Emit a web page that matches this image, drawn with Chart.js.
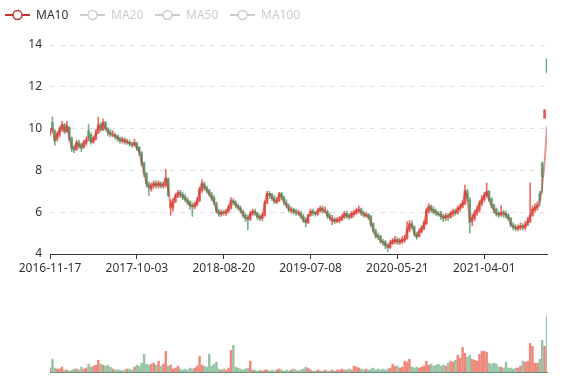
<!DOCTYPE html>
<html><head><meta charset="utf-8">
<script src="https://cdn.jsdelivr.net/npm/chart.js@4.4.1/dist/chart.umd.min.js"></script>
<style>
html,body{margin:0;padding:0;background:#fff;}
#wrap{position:relative;width:577px;height:380px;overflow:hidden;font-family:'Noto Sans',sans-serif;}
#price{position:absolute;left:0;top:0;}
#vol{position:absolute;left:0;top:290px;}
.lg{position:absolute;top:8px;height:14px;display:flex;align-items:center;font-size:12px;line-height:14px;white-space:nowrap;}
.lg svg{margin-right:6px;display:block;}
</style></head><body>
<div id="wrap">
<canvas id="price" width="577" height="290"></canvas>
<canvas id="vol" width="577" height="90"></canvas>
<div id="legend"></div>
</div>
<script>
// ---- data ----
const seriesNames = ['MA10', 'MA20', 'MA50', 'MA100'];
const seriesVisible = [true, false, false, false];
const tickIndex = [0, 36, 72, 108, 144, 180];
const tickLabels = ['2016-11-17', '2017-10-03', '2018-08-20', '2019-07-08', '2020-05-21', '2021-04-01'];

const ma10 = [
9.85,10.0,9.45,9.7,9.95,10.15,9.9,10.1,9.6,9.1,
9.05,9.3,9.2,9.1,9.3,9.4,9.6,9.4,9.5,9.7,
10.1,10.0,10.25,10.05,9.85,9.75,9.7,9.65,9.55,9.45,
9.45,9.4,9.35,9.3,9.25,9.3,9.1,8.9,8.4,7.9,
7.4,7.2,7.25,7.35,7.3,7.35,7.3,7.3,7.6,7.2,
6.3,6.55,6.75,6.9,6.85,6.75,6.65,6.5,6.35,6.3,
6.35,6.5,7.0,7.35,7.2,7.05,6.9,6.7,6.5,6.1,
5.95,5.95,6.0,6.0,6.2,6.5,6.5,6.35,6.25,6.1,
5.9,5.75,5.7,5.9,6.0,6.0,5.8,5.75,5.8,6.4,
6.85,6.85,6.7,6.55,6.5,6.85,6.75,6.5,6.35,6.15,
6.1,6.05,6.0,5.95,5.8,5.65,5.55,5.8,6.0,6.0,
5.95,6.05,6.15,6.1,6.05,5.85,5.75,5.65,5.6,5.6,
5.65,5.75,5.9,5.85,5.8,5.9,5.95,6.05,6.1,6.0,
5.9,5.85,5.8,5.5,5.15,4.9,4.8,4.65,4.55,4.45,
4.35,4.5,4.6,4.65,4.6,4.6,4.65,4.7,5.1,5.4,
5.35,5.0,4.85,5.05,5.2,5.4,6.0,6.25,6.15,6.05,
6.0,5.9,5.85,5.75,5.8,5.8,5.9,6.0,6.0,6.15,
6.25,6.4,6.95,6.7,5.6,5.7,5.95,6.1,6.4,6.6,
6.8,6.95,6.6,6.3,6.1,5.95,5.9,5.95,5.95,5.85,
5.75,5.4,5.3,5.25,5.25,5.3,5.3,5.35,5.55,5.8,
6.1,6.2,6.3,6.55,7.3,8.4,10.1];

const open = [
9.75,10.3,9.9,9.5,9.7,9.95,10.2,9.85,10.05,9.55,
9.1,9.0,9.35,9.25,9.1,9.3,9.9,9.7,9.35,9.5,
9.8,10.2,9.95,10.3,10.0,9.85,9.75,9.7,9.65,9.55,
9.4,9.5,9.35,9.35,9.25,9.2,9.3,9.1,8.85,8.35,
7.85,7.35,7.1,7.25,7.4,7.25,7.4,7.25,7.3,7.6,
6.2,6.2,6.5,6.75,6.95,6.85,6.75,6.6,6.5,6.35,
6.25,6.35,6.55,7.05,7.35,7.2,7.05,6.85,6.7,6.4,
6.05,5.9,6.0,5.95,6.05,6.2,6.55,6.45,6.3,6.2,
6.05,5.85,5.75,5.65,5.9,6.05,5.95,5.8,5.7,5.85,
6.45,6.9,6.85,6.7,6.5,6.55,6.9,6.7,6.45,6.3,
6.1,6.15,6.05,5.95,5.95,5.8,5.65,5.5,5.85,6.05,
5.95,5.9,6.05,6.2,6.1,6.05,5.85,5.55,5.65,5.55,
5.6,5.65,5.75,5.95,5.85,5.75,5.9,5.95,6.05,6.15,
5.95,5.85,5.9,5.8,5.45,5.1,4.9,4.85,4.6,4.6,
4.4,4.3,4.5,4.6,4.7,4.55,4.6,4.65,4.75,5.15,
5.45,5.3,4.95,4.85,5.05,5.2,5.45,6.05,6.3,6.15,
6.05,5.95,5.95,5.8,5.7,5.85,5.75,5.9,6.05,5.95,
6.15,6.25,6.4,7.0,6.6,5.55,5.7,5.95,6.1,6.4,
6.6,6.8,7.0,6.65,6.35,6.15,5.95,5.85,6.0,5.95,
5.85,5.7,5.4,5.3,5.2,5.25,5.35,5.25,5.4,5.55,
5.85,6.1,6.2,6.9,8.35,10.5,13.3];

const close = [
9.9,9.95,9.4,9.75,10.0,10.2,9.85,10.15,9.5,9.05,
8.95,9.35,9.15,9.05,9.35,9.45,9.6,9.35,9.55,9.8,
10.2,9.95,10.3,10.0,9.8,9.7,9.75,9.6,9.5,9.4,
9.5,9.35,9.4,9.25,9.2,9.35,9.05,8.85,8.3,7.85,
7.35,7.15,7.3,7.4,7.25,7.4,7.25,7.35,7.65,6.8,
6.4,6.5,6.8,6.95,6.85,6.7,6.6,6.45,6.3,6.25,
6.4,6.55,7.1,7.4,7.15,7.0,6.85,6.65,6.45,6.05,
5.9,6.0,5.95,6.05,6.25,6.55,6.45,6.3,6.2,6.05,
5.85,5.7,5.65,5.95,6.05,5.95,5.75,5.7,5.85,6.45,
6.9,6.8,6.65,6.5,6.55,6.9,6.7,6.45,6.3,6.1,
6.15,6.0,5.95,6.0,5.8,5.6,5.5,5.85,6.05,5.95,
5.9,6.1,6.2,6.05,6.1,5.8,5.7,5.7,5.55,5.65,
5.7,5.8,5.95,5.8,5.75,5.95,6.0,6.1,6.15,5.95,
5.85,5.9,5.75,5.4,5.1,4.85,4.85,4.6,4.55,4.4,
4.3,4.55,4.65,4.7,4.55,4.65,4.7,4.75,5.2,5.45,
5.3,4.95,4.8,5.1,5.25,5.5,6.1,6.3,6.1,6.0,
5.95,5.9,5.8,5.7,5.85,5.75,5.95,6.05,5.95,6.2,
6.3,6.45,7.05,6.65,5.5,5.75,5.95,6.15,6.45,6.65,
6.85,7.0,6.6,6.3,6.1,5.9,5.85,6.0,5.9,5.8,
5.7,5.4,5.3,5.2,5.3,5.35,5.25,5.4,5.6,5.85,
6.15,6.25,6.35,6.55,7.7,10.9,12.7];

const high = [
10.0,10.55,9.95,9.85,10.1,10.35,10.25,10.35,10.1,9.6,
9.2,9.45,9.45,9.3,9.45,9.6,10.2,9.8,9.65,9.95,
10.55,10.3,10.45,10.35,10.05,9.95,9.9,9.8,9.7,9.6,
9.6,9.55,9.5,9.45,9.35,9.5,9.35,9.15,8.9,8.4,
7.9,7.45,7.4,7.5,7.5,7.5,7.45,7.45,8.05,7.65,
6.6,6.65,6.9,7.05,7.05,6.95,6.85,6.7,6.55,6.45,
6.5,6.7,7.2,7.55,7.45,7.25,7.1,6.95,6.8,6.5,
6.15,6.1,6.1,6.15,6.35,6.7,6.65,6.55,6.4,6.3,
6.1,5.95,5.85,6.05,6.15,6.15,6.0,5.9,5.95,6.55,
7.0,7.0,6.9,6.8,6.7,6.95,6.95,6.8,6.6,6.4,
6.25,6.2,6.15,6.1,6.05,5.9,5.75,5.9,6.15,6.15,
6.05,6.2,6.3,6.3,6.25,6.1,5.95,5.85,5.75,5.75,
5.8,5.9,6.05,6.05,5.95,6.05,6.1,6.2,6.3,6.2,
6.05,6.0,5.95,5.85,5.5,5.2,5.0,4.9,4.7,4.65,
4.5,4.65,4.75,4.85,4.8,4.75,4.85,4.9,5.55,5.6,
5.6,5.35,5.05,5.2,5.35,5.6,6.2,6.4,6.35,6.25,
6.15,6.05,6.05,5.9,5.95,5.95,6.05,6.15,6.15,6.3,
6.4,6.55,7.3,7.1,6.7,5.9,6.1,6.3,6.55,6.8,
6.95,7.4,7.05,6.7,6.4,6.2,6.05,6.3,6.1,6.05,
5.95,5.75,5.5,5.4,5.4,5.5,5.45,5.55,5.75,7.4,
6.3,6.4,6.5,7.0,8.4,10.9,13.35];

const low = [
9.65,9.8,9.2,9.4,9.6,9.85,9.75,9.8,9.4,8.9,
8.85,8.95,9.05,8.9,9.05,9.2,9.4,9.25,9.3,9.45,
9.75,9.85,9.9,9.9,9.65,9.6,9.6,9.5,9.4,9.3,
9.3,9.25,9.25,9.15,9.1,9.15,8.95,8.7,8.2,7.7,
7.2,6.8,7.0,7.15,7.15,7.15,7.15,7.15,7.2,6.75,
5.85,6.05,6.45,6.7,6.7,6.6,6.5,6.35,6.15,5.8,
6.15,6.3,6.5,6.95,7.05,6.9,6.75,6.55,6.35,5.95,
5.8,5.8,5.85,5.85,5.95,6.15,6.35,6.2,6.1,5.95,
5.75,5.55,5.17,5.6,5.85,5.85,5.65,5.6,5.6,5.8,
6.4,6.65,6.55,6.4,6.4,6.5,6.6,6.35,6.2,6.0,
5.95,5.9,5.85,5.85,5.7,5.5,5.3,5.45,5.8,5.85,
5.8,5.85,6.0,5.95,5.95,5.7,5.6,5.4,5.45,5.5,
5.5,5.6,5.7,5.7,5.65,5.7,5.8,5.9,5.95,5.85,
5.75,5.75,5.65,5.3,5.0,4.75,4.7,4.5,4.4,4.25,
4.12,4.25,4.45,4.5,4.45,4.45,4.5,4.55,4.7,5.05,
5.2,4.85,4.7,4.8,5.0,5.15,5.4,5.95,6.0,5.9,
5.85,5.8,5.65,5.55,5.6,5.6,5.7,5.8,5.85,5.9,
6.05,6.2,6.35,6.5,5.0,5.35,5.6,5.85,6.0,6.3,
6.5,6.7,6.5,6.2,5.95,5.8,5.75,5.8,5.75,5.7,
5.6,5.3,5.15,5.1,5.1,5.15,5.15,5.15,5.35,5.5,
5.8,6.0,6.1,6.3,6.9,10.5,12.65];

const volume = [
4,13,4,3,3,5,2,2,1,2,
3,3,2,5,3,4,8,5,6,7,
12,8,7,6,7,5,3,2,2,2,
1,2,3,3,2,5,7,6,9,18,
8,7,8,9,7,11,6,8,21,6,
7,3,4,6,3,2,3,2,4,3,
4,6,16,7,6,5,18,6,8,10,
3,2,3,2,4,22,27,5,4,3,
2,3,4,11,2,2,1,2,1,2,
2,1,2,1,2,3,2,1,2,1,
2,3,2,1,2,3,5,4,2,1,
1,2,1,1,2,1,1,2,1,2,
2,3,2,2,3,2,6,5,4,3,
2,3,2,3,4,2,3,2,3,2,
3,4,8,6,6,4,5,11,10,13,
5,4,5,4,5,6,11,7,8,6,
7,8,6,7,6,9,11,10,12,17,
14,25,19,15,17,13,12,11,18,21,
21,20,9,8,9,8,5,5,4,10,
4,4,3,4,4,6,11,10,11,29,
26,9,9,13,32,26,57];

// ---- styling ----
const FONT = "'Noto Sans', sans-serif";
Chart.defaults.font.family = FONT;
Chart.defaults.font.size = 12;
const N = close.length;
const isUp = close.map((c, i) => c >= open[i]);
const UP = 'rgba(232,84,74,0.85)', DOWN = 'rgba(84,158,110,0.8)';
const UPV = 'rgba(232,90,74,0.72)', DOWNV = 'rgba(84,158,110,0.6)';
const candleCol = isUp.map(u => u ? UP : DOWN);

// legend (HTML)
const legendX = [5, 80, 155, 230];
const lg = document.getElementById('legend');
seriesNames.forEach((name, k) => {
  const col = seriesVisible[k] ? '#c23531' : '#ccc';
  const d = document.createElement('div');
  d.className = 'lg';
  d.style.left = legendX[k] + 'px';
  d.style.color = seriesVisible[k] ? '#333' : '#ccc';
  d.innerHTML = '<svg width="25" height="14"><line x1="0" y1="7" x2="25" y2="7" stroke="' + col +
    '" stroke-width="2"/><circle cx="12.5" cy="7" r="4.5" fill="#fff" stroke="' + col +
    '" stroke-width="1.5"/></svg><span>' + name + '</span>';
  lg.appendChild(d);
});

new Chart(document.getElementById('price'), {
  type: 'bar',
  data: {
    datasets: [
      { type: 'line', label: seriesNames[0], data: ma10.map((v, i) => ({ x: i, y: v })),
        borderColor: 'rgba(194,53,49,0.5)', borderWidth: 2, pointRadius: 0, tension: 0.3, order: 0 },
      { label: 'body', data: open.map((o, i) => ({ x: i, y: [o, close[i]] })),
        backgroundColor: candleCol, barThickness: 2, grouped: false, order: 1 },
      { label: 'wick', data: low.map((l, i) => ({ x: i, y: [l, high[i]] })),
        backgroundColor: candleCol, barThickness: 1, grouped: false, order: 2 }
    ]
  },
  options: {
    responsive: false, animation: false, devicePixelRatio: 1,
    layout: { padding: { left: 0, right: 30, top: 45, bottom: 0 } },
    plugins: { legend: { display: false }, tooltip: { enabled: false } },
    scales: {
      x: {
        type: 'linear', min: 0, max: N - 1, offset: false,
        afterBuildTicks: s => { s.ticks = tickIndex.map(v => ({ value: v })); },
        afterFit: s => { s.height = 36; },
        ticks: { autoSkip: false, maxRotation: 0, padding: 2, color: '#333',
          callback: v => { const k = tickIndex.indexOf(v); return k >= 0 ? tickLabels[k] : ''; } },
        grid: { drawOnChartArea: false, drawTicks: true, tickLength: 5, color: '#333', offset: false },
        border: { display: true, color: '#333' }
      },
      y: {
        min: 4, max: 14, beginAtZero: false,
        afterFit: s => { s.width = 50; },
        ticks: { stepSize: 2, padding: 8, color: '#333' },
        grid: { color: '#e0e0e0', drawTicks: false },
        border: { display: false, dash: [5, 5] }
      }
    }
  }
});

new Chart(document.getElementById('vol'), {
  type: 'bar',
  data: {
    datasets: [{ label: 'Volume', data: volume.map((v, i) => ({ x: i, y: v })),
      backgroundColor: isUp.map(u => u ? UPV : DOWNV), barThickness: 1.8 }]
  },
  options: {
    responsive: false, animation: false, devicePixelRatio: 1,
    layout: { padding: { left: 50, right: 30, top: 20, bottom: 8 } },
    plugins: { legend: { display: false }, tooltip: { enabled: false } },
    scales: {
      x: { type: 'linear', min: 0, max: N - 1, offset: false, display: true,
        afterFit: s => { s.height = 0; },
        ticks: { display: false }, grid: { display: false, offset: false },
        border: { display: true, color: 'rgba(90,130,105,0.9)' } },
      y: { display: false, min: 0, max: 63 }
    }
  }
});
</script>
</body></html>
